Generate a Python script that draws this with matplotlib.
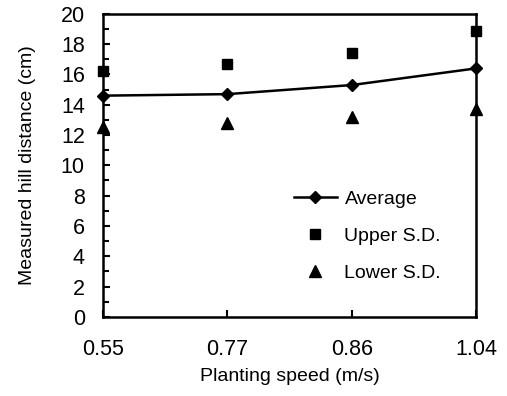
import matplotlib
matplotlib.use('Agg')
import matplotlib.pyplot as plt
from matplotlib.ticker import MultipleLocator

plt.rcParams['font.family'] = ['Liberation Sans', 'DejaVu Sans']

# data
speeds = ['0.55', '0.77', '0.86', '1.04']
average = [14.6, 14.7, 15.3, 16.4]
upper_sd = [16.2, 16.7, 17.4, 18.9]
lower_sd = [12.5, 12.8, 13.2, 13.7]

x = list(range(len(speeds)))

fig = plt.figure(figsize=(5.07, 3.96), dpi=100)
ax = fig.add_axes([0.203, 0.2, 0.736, 0.765])

ax.plot(x, average, color='black', lw=1.8, marker='D', ms=6, label='Average', clip_on=False, zorder=3)
ax.plot(x, upper_sd, ls='none', color='black', marker='s', ms=7, label='Upper S.D.', clip_on=False, zorder=3)
ax.plot(x, lower_sd, ls='none', color='black', marker='^', ms=8, label='Lower S.D.', clip_on=False, zorder=3)

ax.set_xlim(0, 3)
ax.set_ylim(0, 20)
ax.set_xticks(x)
ax.set_xticklabels(speeds)
ax.yaxis.set_major_locator(MultipleLocator(2))
ax.yaxis.set_minor_locator(MultipleLocator(1))
ax.tick_params(axis='both', direction='in', labelsize=15.5, width=1.5, length=5)
ax.tick_params(axis='y', which='minor', direction='in', width=1.5, length=4)
ax.tick_params(axis='y', pad=13)
ax.tick_params(axis='x', pad=16)
for s in ax.spines.values():
    s.set_linewidth(1.8)

ax.set_xlabel('Planting speed (m/s)', fontsize=14, labelpad=6)
ax.set_ylabel('Measured hill distance (cm)', fontsize=14, labelpad=18)

ax.legend(loc='upper left', bbox_to_anchor=(0.465, 0.475), frameon=False, fontsize=14,
          labelspacing=1.0, handlelength=2.2, handletextpad=0.4)

fig.savefig('out.png', dpi=100)
